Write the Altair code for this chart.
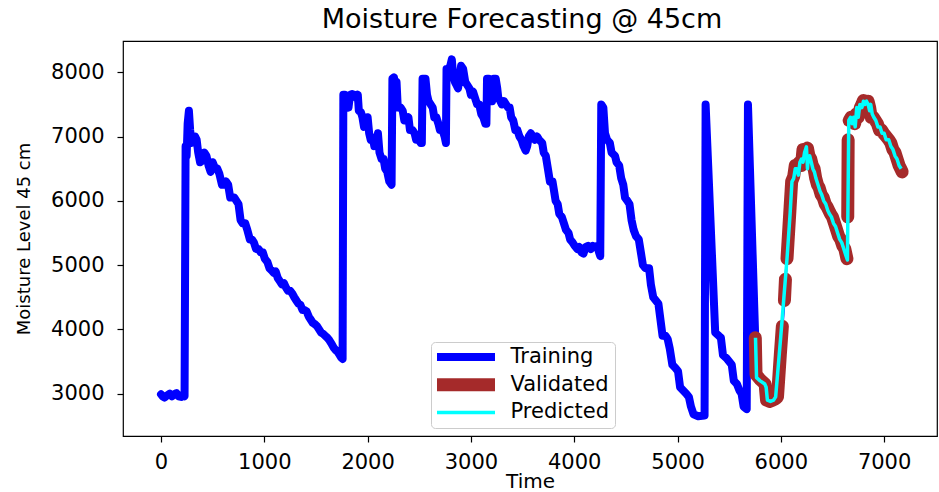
import altair as alt
import pandas as pd

# Training record: time step and soil moisture at 45 cm
train_t = [0, 15, 35, 60, 85, 105, 125, 150, 170, 195, 215, 228,
           238, 248, 258, 270, 282, 295, 310, 330, 345, 360, 378, 395, 420, 440, 460, 480,
           500, 520, 545, 565, 590, 610, 630, 650, 670, 690, 710, 730, 750, 770, 790, 815,
           835, 860, 880, 900, 920, 945, 965, 985, 1005, 1030, 1050, 1070, 1090, 1110, 1130,
           1150, 1170, 1190, 1210, 1230, 1250, 1270, 1290, 1310, 1330, 1350, 1370, 1390, 1410,
           1430, 1450, 1470, 1490, 1510, 1530, 1550, 1570, 1590, 1610, 1630, 1650, 1670, 1690,
           1710, 1730, 1745, 1758,
           1765, 1780, 1800, 1815, 1830, 1850, 1870, 1890, 1905, 1915, 1935, 1950, 1965, 1985,
           2000, 2015, 2030, 2050, 2065, 2085, 2100, 2115, 2135, 2155, 2170, 2190, 2210, 2232,
           2240, 2255, 2270, 2280, 2292, 2320, 2340, 2355, 2375, 2395, 2410, 2435, 2455, 2470,
           2495, 2515, 2525,
           2532, 2560, 2575, 2590, 2610, 2630, 2645, 2665, 2685, 2700, 2725, 2745, 2758,
           2764, 2785, 2800, 2815, 2828, 2845, 2860, 2875, 2890, 2905, 2925, 2945, 2965, 2985,
           3000, 3020, 3040, 3060, 3080, 3100, 3120, 3140, 3150,
           3156, 3175, 3190, 3205, 3220, 3240, 3255, 3265, 3285, 3300, 3320, 3340, 3360, 3375,
           3390, 3410, 3430, 3450, 3470, 3490, 3510, 3530, 3545, 3560, 3580, 3600, 3620, 3640,
           3660, 3690,
           3705, 3725, 3745, 3765, 3790, 3805, 3820, 3840, 3855, 3880, 3900, 3920, 3945, 3960,
           3985, 4005, 4030, 4050, 4070, 4090, 4110, 4135, 4160, 4180, 4200, 4225, 4240, 4252,
           4262, 4282, 4298, 4318, 4345, 4362, 4395, 4410, 4435, 4455, 4475, 4492, 4515, 4535,
           4555, 4575, 4598, 4625, 4645, 4665, 4690, 4725, 4742, 4765, 4790, 4815, 4835, 4855,
           4885, 4905, 4925, 4950, 4980, 5005, 5025, 5055, 5085, 5110, 5130, 5155, 5200, 5262,
           5272, 5365, 5400, 5420, 5440, 5475, 5500, 5525, 5545, 5575, 5600, 5620, 5640, 5670,
           5682, 5752]
train_v = [2990, 2960, 2940, 2975, 3000, 2960, 2990, 3010, 2960, 2950, 2990, 2960,
           6850, 6700, 7200, 7400, 7100, 6900, 6990, 7000, 6950, 6750, 6600, 6620, 6750, 6700, 6550, 6450,
           6600, 6520, 6500, 6420, 6250, 6250, 6300, 6250, 6050, 6050, 6050, 6000, 5950, 5700, 5650, 5650,
           5550, 5400, 5400, 5350, 5250, 5250, 5200, 5200, 5100, 5050, 4950, 4920, 4880, 4900, 4800,
           4750, 4700, 4720, 4650, 4600, 4600, 4560, 4500, 4450, 4400, 4380, 4300, 4300, 4280,
           4200, 4150, 4100, 4080, 4050, 4000, 3950, 3930, 3900, 3870, 3830, 3780, 3720, 3680,
           3650, 3600, 3560, 3540,
           7650, 7650, 7620, 7450, 7650, 7660, 7650, 7600, 7650, 7400, 7380, 7300, 7150, 7180,
           7300, 7050, 6950, 6980, 6850, 6900, 7050, 6750, 6650, 6650, 6500, 6450, 6300, 6250,
           7900, 7920, 7700, 7850, 7450, 7450, 7400, 7250, 7250, 7300, 7100, 7100, 7050, 6950,
           6950, 6900, 6900,
           7900, 7900, 7650, 7550, 7500, 7450, 7300, 7300, 7200, 7100, 7100, 7000, 6900,
           8050, 8050, 8100, 8200, 7950, 7850, 7800, 7750, 7900, 8100, 8050, 7850, 7800, 7750,
           7650, 7700, 7600, 7500, 7500, 7350, 7300, 7200, 7200,
           7900, 7900, 7880, 7550, 7900, 7900, 7750, 7600, 7550, 7500, 7550, 7500, 7450, 7450,
           7300, 7250, 7100, 7100, 7000, 6950, 6850, 6780, 6850, 7000, 7050, 7000, 6950, 7000,
           6950, 6900,
           6750, 6700, 6500, 6300, 6300, 6150, 6000, 5950, 5800, 5750, 5650, 5550, 5500, 5400,
           5350, 5300, 5250, 5280, 5200, 5180, 5280, 5300, 5250, 5300, 5280, 5300, 5200, 5140,
           7500, 7450, 7050, 6950, 6900, 6750, 6700, 6600, 6550, 6350, 6250, 6050, 6000, 5950,
           5700, 5550, 5450, 5400, 5200, 5000, 4950, 4950, 4700, 4500, 4450, 4400, 4150, 3900,
           3900, 3850, 3700, 3450, 3400, 3350, 3100, 3050, 3000, 2950, 2800, 2680, 2650, 2660,
           7500, 3950, 3900, 3870, 3600, 3550, 3500, 3450, 3200, 3150, 3050, 3000, 2800, 2760,
           7500, 3880]

# Validation record; None marks a break in the recorded trace
val_t = [5753, 5760, 5800, 5848, 5862, 5890, 5920, 5950, 5968, 5995, 6015,
         6025, 6035, 6045,
         6052, 6060, 6075, 6090, 6105, 6125, 6140, 6160, 6180, 6200, 6215, 6240, 6258, 6272,
         6290, 6305, 6322, 6338, 6355, 6372, 6390, 6410, 6430, 6450, 6465, 6480, 6500, 6520,
         6540, 6560, 6580, 6600, 6620, 6640,
         6643, 6648, 6652,
         6656, 6662, 6680, 6700, 6715, 6730, 6750, 6770, 6785, 6800, 6815, 6830, 6845, 6860,
         6875, 6895, 6915, 6935, 6955, 6975, 6995, 7020, 7045, 7065, 7085, 7105, 7125, 7145,
         7160, 7175]
val_v = [3870, 3300, 3220, 3150, 2900, 2880, 2900, 2920, 2950, 3600, 4050,
         None, 4450, 4780,
         None, 5100, 5500, 5900, 6300, 6380, 6550, 6560, 6600, 6550, 6800, 6800, 6820, 6700,
         6650, 6550, 6500, 6350, 6250, 6200, 6100, 6050, 5950, 5900, 5850, 5800, 5750, 5650,
         5550, 5450, 5400, 5300, 5250, 5100,
         None, 5750, 6950,
         None, 7250, 7300, 7250, 7200, 7350, 7300, 7450, 7500, 7560, 7550, 7500, 7550, 7450,
         7300, 7300, 7250, 7200, 7100, 7100, 7050, 7000, 6950, 6900, 6800, 6750, 6650, 6550,
         6500, 6450]

# Model forecast over the validation window
pred_t = [5755, 5765, 5800, 5845, 5858, 5870, 5900, 5930, 5950, 6000, 6030, 6060, 6090,
          6108, 6125, 6140, 6155, 6170, 6185, 6200, 6215, 6230, 6248, 6258, 6265, 6280, 6295,
          6310, 6325, 6340, 6360, 6380, 6395, 6415, 6435, 6455, 6470, 6490, 6510, 6530, 6550,
          6570, 6590, 6610, 6630, 6645,
          6658, 6675, 6690, 6705, 6720, 6735, 6750, 6765, 6785, 6800, 6815, 6830, 6845, 6860,
          6870, 6885, 6900, 6920, 6940, 6960, 6980, 7000, 7020, 7045, 7065, 7085, 7105, 7125,
          7145, 7165]
pred_v = [3870, 3250, 3200, 3150, 3100, 2900, 2880, 2900, 2950, 3900, 4500, 5100, 5800,
          6300, 6350, 6500, 6500, 6400, 6600, 6650, 6600, 6750, 6840, 6500, 6650, 6700, 6600,
          6500, 6450, 6350, 6250, 6150, 6100, 6000, 5950, 5850, 5800, 5750, 5650, 5600, 5500,
          5400, 5350, 5250, 5150, 5080,
          7250, 7300, 7200, 7300, 7150, 7450, 7300, 7500, 7450, 7550, 7500, 7550, 7500, 7400,
          7500, 7350, 7300, 7250, 7150, 7150, 7050, 7050, 6950, 6950, 6850, 6800, 6700, 6650,
          6550, 6500]

series_names = ["Training", "Validated", "Predicted"]
series_colors = ["#0000ff", "#a52a2a", "#00ffff"]
series_widths = [8, 13, 3.5]
x_ticks = [0, 1000, 2000, 3000, 4000, 5000, 6000, 7000]
y_ticks = [3000, 4000, 5000, 6000, 7000, 8000]

FONT = "DejaVu Sans"

train_df = pd.DataFrame({"t": train_t, "v": train_v, "series": "Training",
                         "i": range(len(train_t))})

# split the validation trace into unbroken pieces
val_rows = []
seg = 0
for k, (t, v) in enumerate(zip(val_t, val_v)):
    if v is None:
        seg += 1
        continue
    val_rows.append({"t": t, "v": v, "series": "Validated", "seg": seg, "i": k})
val_df = pd.DataFrame(val_rows)
pred_df = pd.DataFrame({"t": pred_t, "v": pred_v, "series": "Predicted",
                        "i": range(len(pred_t))})

x_enc = alt.X("t:Q", title="Time",
              scale=alt.Scale(domain=[-368, 7512], nice=False, zero=False),
              axis=alt.Axis(values=x_ticks, format="d", titleX=407, titleY=45,
                            titleBaseline="middle", labelPadding=9))
y_enc = alt.Y("v:Q", title="Moisture Level 45 cm",
              scale=alt.Scale(domain=[2342, 8486], nice=False, zero=False),
              axis=alt.Axis(values=y_ticks, format="d", titleX=-99, titleY=197.5,
                            titleBaseline="middle", titleFontSize=18, labelPadding=13))

# long horizontal stroke from a small nominal symbol size; fixed entry height keeps rows even
legend = alt.Legend(title=None, orient="none", legendX=308, legendY=301,
                    symbolType="M-9.667,0H9.667", symbolSize=36,
                    symbolOffset=19.5, labelOffset=34, clipHeight=20)
color_enc = alt.Color("series:N",
                      scale=alt.Scale(domain=series_names, range=series_colors),
                      legend=legend)
width_enc = alt.StrokeWidth("series:N",
                            scale=alt.Scale(type="ordinal", domain=series_names,
                                            range=series_widths),
                            legend=legend)

train_line = alt.Chart(train_df).mark_line(strokeJoin="round", strokeCap="round").encode(
    x=x_enc, y=y_enc, color=color_enc, strokeWidth=width_enc, order="i:Q")

# continuous thin trace under the validation band
val_trace = alt.Chart(val_df).mark_line(color="#0000ff", strokeWidth=2.5,
                                        strokeJoin="round").encode(
    x=x_enc, y=y_enc, order="i:Q")

val_line = alt.Chart(val_df).mark_line(strokeJoin="round", strokeCap="round").encode(
    x=x_enc, y=y_enc, color=color_enc, strokeWidth=width_enc,
    detail="seg:N", order="i:Q")

pred_line = alt.Chart(pred_df).mark_line(strokeJoin="round").encode(
    x=x_enc, y=y_enc, color=color_enc, strokeWidth=width_enc, order="i:Q")

chart = alt.layer(train_line, val_trace, val_line, pred_line).properties(
    width=814, height=395,
    autosize="none",
    padding={"left": 123, "top": 41, "right": 2, "bottom": 56},
    title=alt.Title("Moisture Forecasting @ 45cm", font=FONT, fontSize=27,
                    fontWeight="normal", color="black", baseline="alphabetic",
                    offset=11, dx=-8, dy=25),
).configure_view(
    stroke="black", strokeWidth=1.2
).configure_axis(
    grid=False, domain=False, tickColor="black", tickWidth=1.2, tickSize=6,
    labelFont=FONT, labelFontSize=21, labelColor="black",
    titleFont=FONT, titleFontSize=20, titleFontWeight="normal", titleColor="black",
).configure_legend(
    labelFont=FONT, labelFontSize=21, labelColor="black",
    padding=5, rowPadding=6.7,
    fillColor="rgba(255,255,255,0.85)", strokeColor="#cccccc", cornerRadius=4,
)

chart.save("out.html", embed_options={"renderer": "svg", "actions": False})
